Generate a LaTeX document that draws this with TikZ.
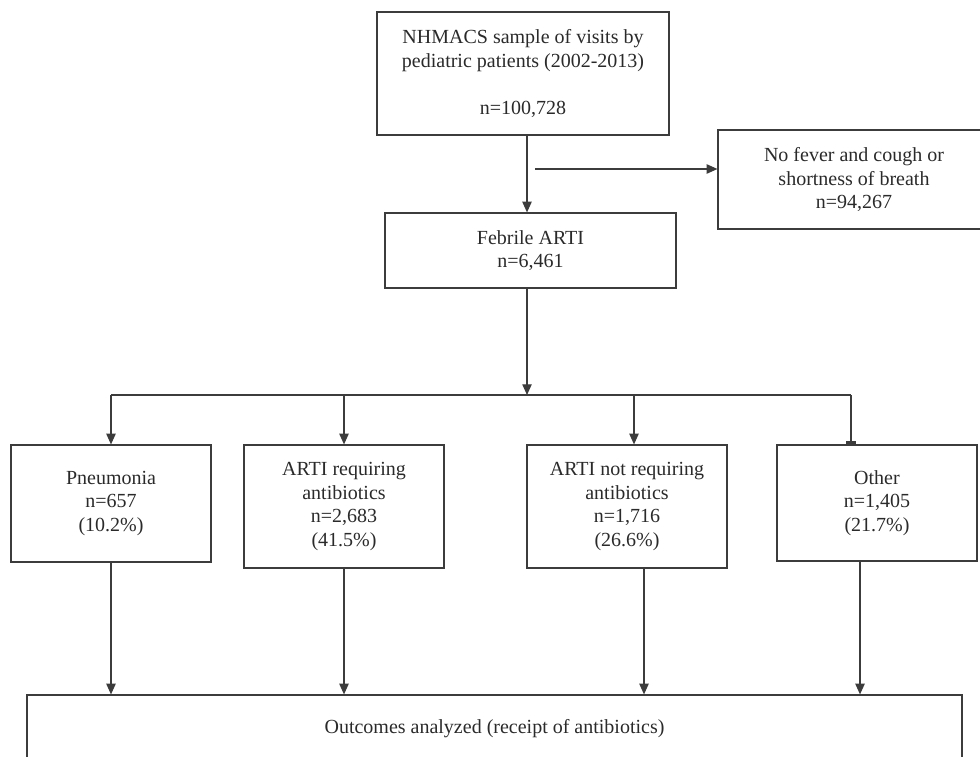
\documentclass[tikz,border=0pt]{standalone}
\usepackage{fontspec}
\setmainfont{Liberation Serif}
\usetikzlibrary{arrows.meta, positioning, calc}
\definecolor{lineclr}{HTML}{3C3C3C}
\definecolor{textclr}{HTML}{2A2A2A}
\begin{document}
\begin{tikzpicture}[x=0.75pt, y=-0.75pt,
	font=\fontsize{15}{17.6}\selectfont,
	box/.style={draw=lineclr, line width=0.9pt, text=textclr, align=center, inner sep=2pt},
	arr/.style={draw=lineclr, line width=0.9pt, -{Triangle[length=8pt,width=7pt]}}]
			\useasboundingbox (0,0) rectangle (980,756);
			\clip (0,0) rectangle (980,756);
			
			\node[box, minimum width=219pt, minimum height=92.25pt] at(523,73.5) (top)  {NHMACS sample of visits by\\pediatric patients (2002-2013)\\[17.6pt]n=100,728};
			\node[box, minimum width=204pt, minimum height=74.25pt] at(854,179.5) (nofever)  {No fever and cough or\\shortness of breath\\n=94,267};
			\node[box, minimum width=218.25pt, minimum height=56.25pt] at(530.5,250.5) (febrile)  {Febrile ARTI\\n=6,461};
			
			\node[box, minimum width=150pt, minimum height=87.75pt] at(111,503.5) (pneu)  {Pneumonia\\n=657\\(10.2\%)};
			\node[box, minimum width=150pt, minimum height=92.25pt] at(344,506.5) (artireq)  {ARTI requiring\\antibiotics\\n=2,683\\(41.5\%)};
			\node[box, minimum width=150pt, minimum height=92.25pt] at(627,506.5) (artinot)  {ARTI not requiring\\antibiotics\\n=1,716\\(26.6\%)};
			\node[box, minimum width=150pt, minimum height=87pt] at(877,503) (other)  {Other\\n=1,405\\(21.7\%)};
			
			\node[box, minimum width=701.25pt, minimum height=50.25pt] at(494.5,728.5) (outcomes)  {Outcomes analyzed (receipt of antibiotics)};
			
			\coordinate (split) at (535,169);
			\coordinate (fork) at (527,395);
			\coordinate (forkend) at (851,395);
			
			\draw[arr] ([xshift=3pt]top.south) -- ([xshift=3pt]top.south |- febrile.north);
			\draw[arr] (split) -- (split -| nofever.west);
			\draw[arr] (febrile.south -| fork) -- (fork);
			
			\draw[draw=lineclr, line width=0.9pt] (pneu.north |- fork) -- (forkend);
			\draw[arr] (pneu.north |- fork) -- (pneu.north);
			\draw[arr] (artireq.north |- fork) -- (artireq.north);
			\draw[arr] ([xshift=5.25pt]artinot.north |- fork) -- ([xshift=5.25pt]artinot.north);
			\draw[draw=lineclr, line width=0.9pt, -{Rectangle[length=2.2pt,width=7pt]}] (forkend) -- (forkend |- other.north);
			
			\draw[arr] (pneu.south) -- (pneu.south |- outcomes.north);
			\draw[arr] (artireq.south) -- (artireq.south |- outcomes.north);
			\draw[arr] ([xshift=12.75pt]artinot.south) -- ([xshift=12.75pt]artinot.south |- outcomes.north);
			\draw[arr] ([xshift=-12.75pt]other.south) -- ([xshift=-12.75pt]other.south |- outcomes.north);
\end{tikzpicture}
\end{document}
